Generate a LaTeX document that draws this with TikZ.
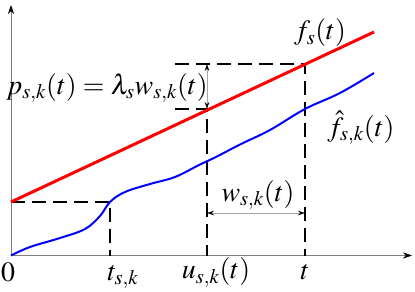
\documentclass[tikz,border=0pt]{standalone}
\usepackage{mathptmx}
\usetikzlibrary{arrows.meta}
\tikzset{
  axis/.style={draw=gray, line width=0.8bp, -{Stealth[length=9bp, width=6bp, color=black]}},
  guide/.style={line width=2bp, dash pattern=on 14bp off 7bp},
  measure/.style={draw=gray!70, line width=0.6bp, {Stealth[length=7bp, width=4.5bp, color=black]}-{Stealth[length=7bp, width=4.5bp, color=black]}},
  lbl/.style={font=\fontsize{28}{32}\selectfont, inner sep=0pt}
}
\begin{document}
\begin{tikzpicture}[x=1bp, y=1bp]
\useasboundingbox (-11,-36.5) rectangle (404,255.5);
\coordinate (O) at (0,0);
\coordinate (Ytop) at (0,250.5);
\coordinate (Xend) at (401,0);
\coordinate (F0) at (0,53.5);
\coordinate (Fend) at (363,223.5);
\coordinate (T1) at (99,53.5);
\coordinate (T1b) at (99,0);
\coordinate (U) at (196,146.5);
\coordinate (Ub) at (196,0);
\coordinate (Ft) at (294,191.5);
\coordinate (Fh) at (294,146.5);
\coordinate (Tb) at (294,0);
\coordinate (L1) at (164,191.5);
\coordinate (L2) at (164,146.5);
\coordinate (Ua) at (196,191.5);
\coordinate (Wl) at (196,42.5);
\coordinate (Wr) at (294,42.5);

\draw[axis] (O) -- (Ytop);
\draw[axis] (O) -- (Xend);

\draw[guide] (F0) -- (T1) -- (T1b);
\draw[guide] (L1) -- (Ft) -- (Tb);
\draw[guide] (L2) -- (U) -- (Ub);

\draw[red, line width=3bp] (F0) -- (Fend);
\draw[blue, line width=2bp] plot[smooth, tension=0.6] coordinates {
  (0,0) (19,8.5) (49,17.5) (74,26.5) (89,39.5) (99,53.5) (114,63.5)
  (139,71.5) (164,78.5) (189,91) (204,98) (229,111) (259,125.5)
  (294,146.5) (329,162.5) (363,182.5)};

\draw[measure] (Ua) -- (U);
\draw[measure] (Wl) -- (Wr);

\node[lbl] (lp) at (96,167.5) {$p_{s,k}(t)=\lambda_s w_{s,k}(t)$};
\node[lbl] (lf) at (309,222.5) {$f_s(t)$};
\node[lbl] (lfh) at (350,127.5) {$\hat{f}_{s,k}(t)$};
\node[lbl] (lw) at (247,60.5) {$w_{s,k}(t)$};
\node[lbl] (l0) at (-3,-16.5) {$0$};
\node[lbl] (lt1) at (112,-21.5) {$t_{s,k}$};
\node[lbl] (lu) at (205,-17) {$u_{s,k}(t)$};
\node[lbl] (lt) at (294,-16.5) {$t$};
\end{tikzpicture}
\end{document}
